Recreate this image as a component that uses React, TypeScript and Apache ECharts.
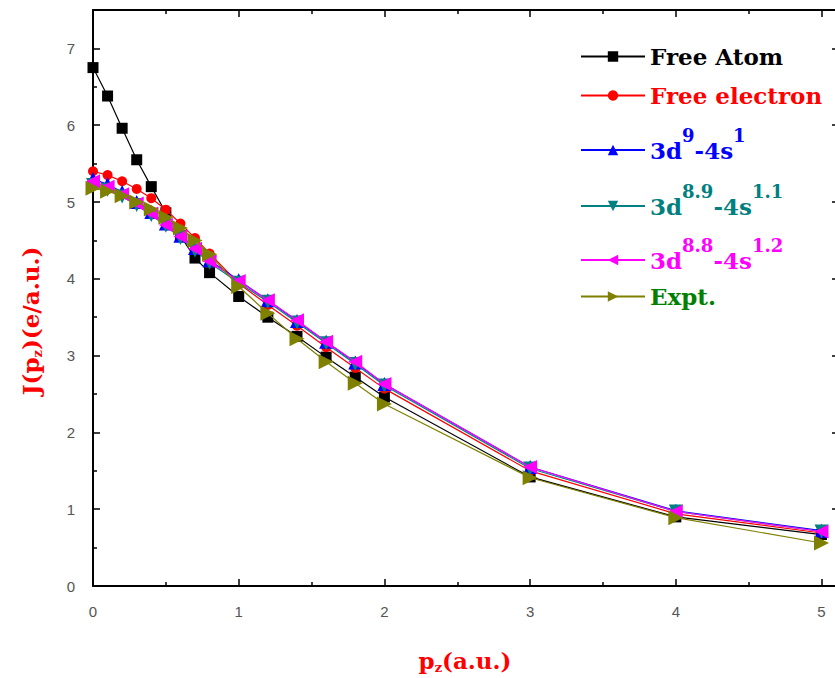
import React, { useEffect, useRef } from "react";
import * as echarts from "echarts";

const xs = [0, 0.1, 0.2, 0.3, 0.4, 0.5, 0.6, 0.7, 0.8, 1.0, 1.2, 1.4, 1.6, 1.8, 2.0, 3.0, 4.0, 5.0];
const freeAtom = [6.75, 6.38, 5.96, 5.55, 5.2, 4.86, 4.56, 4.27, 4.08, 3.77, 3.5, 3.25, 2.98, 2.72, 2.46, 1.42, 0.9, 0.67];
const freeElectron = [5.4, 5.35, 5.27, 5.17, 5.05, 4.9, 4.72, 4.53, 4.33, 3.94, 3.66, 3.39, 3.11, 2.84, 2.57, 1.5, 0.94, 0.69];
const d9s1 = [5.3, 5.23, 5.13, 5.0, 4.87, 4.72, 4.56, 4.4, 4.24, 3.98, 3.72, 3.45, 3.18, 2.91, 2.63, 1.55, 0.98, 0.72];
const d89s11 = [5.22, 5.16, 5.07, 4.96, 4.83, 4.69, 4.53, 4.37, 4.21, 3.95, 3.7, 3.43, 3.16, 2.89, 2.61, 1.53, 0.97, 0.71];
const d88s12 = [5.27, 5.2, 5.1, 4.98, 4.85, 4.7, 4.55, 4.39, 4.23, 3.97, 3.72, 3.46, 3.18, 2.92, 2.63, 1.55, 0.97, 0.71];
const expt = [5.18, 5.14, 5.08, 5.0, 4.91, 4.8, 4.66, 4.5, 4.32, 3.9, 3.55, 3.22, 2.92, 2.64, 2.37, 1.41, 0.89, 0.56];

const seriesNames = ["Free Atom", "Free electron", "3d9-4s1", "3d8.9-4s1.1", "3d8.8-4s1.2", "Expt."];
const legendLabels = [
  "{t|Free Atom}",
  "{t|Free electron}",
  "{t|3d}{p|9}{t|-4s}{p|1}",
  "{t|3d}{p|8.9}{t|-4s}{p|1.1}",
  "{t|3d}{p|8.8}{t|-4s}{p|1.2}",
  "{t|Expt.}",
];
const legendTextColors = ["#000000", "#ff0000", "#0000ff", "#008080", "#ff00ff", "#008000"];
const lineColors = ["#000000", "#ff0000", "#0000ff", "#008080", "#ff00ff", "#808000"];
const legendTops = [45, 84, 126, 182, 236, 285];

const SERIF = "'DejaVu Serif', serif";

export default function App() {
  const ref = useRef<HTMLDivElement>(null);
  useEffect(() => {
    if (!ref.current) return;
    const chart = echarts.init(ref.current, null, { renderer: "svg" });
    const datasets = [freeAtom, freeElectron, d9s1, d89s11, d88s12, expt];
    const symbols = ["rect", "circle", "triangle", "triangle", "triangle", "triangle"];
    const rotates = [0, 0, 0, 180, 90, -90];
    const sizes = [11, 10, 14, 14, 14, 15];
    const series = datasets.map((d, i) => ({
      name: seriesNames[i],
      type: "line",
      data: xs.map((x, j) => [x, d[j]]),
      symbol: symbols[i],
      symbolRotate: rotates[i],
      symbolSize: sizes[i],
      showAllSymbol: true,
      lineStyle: { color: lineColors[i], width: 1.2 },
      itemStyle: { color: lineColors[i] },
      z: 2 + i,
    }));
    const legends = seriesNames.map((n, i) => ({
      data: [n],
      left: 580,
      top: legendTops[i],
      orient: "vertical",
      padding: 0,
      itemWidth: 64,
      itemHeight: 13,
      selectedMode: false,
      formatter: () => legendLabels[i],
      textStyle: {
        rich: {
          t: {
            fontFamily: SERIF,
            fontWeight: "bold",
            fontSize: 23,
            lineHeight: 26,
            color: legendTextColors[i],
            verticalAlign: "middle",
          },
          p: {
            fontFamily: SERIF,
            fontWeight: "bold",
            fontSize: 18,
            lineHeight: 18,
            padding: [0, 0, 30, 0],
            color: legendTextColors[i],
            verticalAlign: "middle",
          },
        },
      },
    }));
    const tickCommon = {
      axisLine: { show: true, onZero: false, lineStyle: { color: "#000", width: 2 } },
      axisTick: { show: true, inside: true, length: 7, lineStyle: { color: "#000", width: 1.5 } },
      minorTick: { show: true, splitNumber: 2, length: 4, lineStyle: { color: "#000", width: 1.5 } },
      splitLine: { show: false },
      minorSplitLine: { show: false },
    };
    const labelStyle = {
      color: "#555",
      fontFamily: "'Liberation Sans', Arial, sans-serif",
      fontSize: 15,
    };
    const nameRich = {
      n: { fontFamily: SERIF, fontWeight: "bold", fontSize: 23, lineHeight: 28, fill: "#ff0000", color: "#ff0000", verticalAlign: "middle" },
      s: { fontFamily: SERIF, fontWeight: "bold", fontSize: 13, lineHeight: 13, padding: [15, 0, 0, 0], fill: "#ff0000", color: "#ff0000", verticalAlign: "middle" },
    };
    const xMax = 5.12;
    chart.setOption({
      animation: false,
      backgroundColor: "#ffffff",
      grid: { left: 93, top: 10, width: 746, height: 576, containLabel: false },
      legend: legends,
      xAxis: [
        {
          type: "value",
          min: 0,
          max: xMax,
          interval: 1,
          position: "bottom",
          ...tickCommon,
          axisLabel: {
            ...labelStyle,
            margin: 18,
            showMaxLabel: false,
            formatter: (v: number) => (Number.isInteger(v) ? String(v) : ""),
          },
        },
        {
          type: "value",
          min: 0,
          max: xMax,
          interval: 1,
          position: "top",
          ...tickCommon,
          axisLabel: { show: false },
        },
      ],
      yAxis: [
        {
          type: "value",
          min: 0,
          max: 7.5,
          interval: 1,
          position: "left",
          ...tickCommon,
          axisLabel: {
            ...labelStyle,
            margin: 18,
            formatter: (v: number) => (Number.isInteger(v) ? String(v) : ""),
          },
        },
        {
          type: "value",
          min: 0,
          max: 7.5,
          interval: 1,
          position: "right",
          ...tickCommon,
          axisLabel: { show: false },
        },
      ],
      graphic: [
        {
          type: "text",
          x: 465,
          y: 660,
          style: {
            text: "{n|p}{s|z}{n|(a.u.)}",
            fill: "#ff0000",
            align: "center",
            verticalAlign: "middle",
            rich: nameRich,
          },
        },
        {
          type: "text",
          x: 30,
          y: 321,
          rotation: Math.PI / 2,
          style: {
            text: "{n|J(p}{s|z}{n|)(e/a.u.)}",
            fill: "#ff0000",
            align: "center",
            verticalAlign: "middle",
            rich: nameRich,
          },
        },
      ],
      series,
    });
    return () => chart.dispose();
  }, []);
  return (
    <div
      style={{ position: "absolute", left: 0, top: 0, width: 835, height: 678, overflow: "hidden", background: "#fff" }}
    >
      <div ref={ref} style={{ width: 845, height: 678 }} />
    </div>
  );
}
